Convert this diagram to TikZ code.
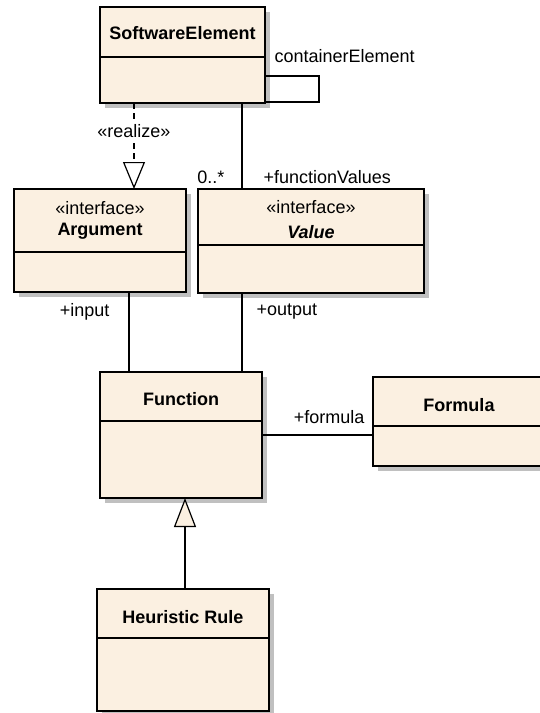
\documentclass[tikz,border=0pt]{standalone}
\usepackage{fontspec}
\setmainfont{Liberation Sans}
\usetikzlibrary{arrows.meta,shadows}

\definecolor{classfill}{RGB}{251,240,225}
\definecolor{classshadow}{RGB}{192,192,192}

\tikzset{
  every node/.style={font=\fontsize{18}{21}\selectfont},
  classbox/.style={draw, line width=1.2pt, fill=classfill, inner sep=0pt, outer sep=0pt,
    anchor=north west,
    drop shadow={shadow xshift=5pt, shadow yshift=-5pt, fill=classshadow, opacity=1}},
  classname/.style={font=\fontsize{18}{21}\selectfont\bfseries},
  divider/.style={line width=1.2pt},
  assoc/.style={line width=1.2pt},
  realize/.style={line width=1.2pt, dash pattern=on 6pt off 4pt,
    -{Triangle[length=27pt, width=22pt, fill=white, line join=miter]}},
  generalize/.style={line width=1.2pt,
    -{Triangle[length=29pt, width=22pt, fill=classfill, line join=miter]}},
}

\begin{document}
\begin{tikzpicture}[x=1pt, y=-1pt]

\def \xrealize  {134}
\def \xvalues   {242}
\def \xinput    {129}
\def \xoutput   {242}
\def \xgeneral  {185}
\def \yformula  {435}

\useasboundingbox (0,0) rectangle (540,713);
\clip (0,0) rectangle (540,713);

% classes
\node [classbox, minimum width=165pt, minimum height=96pt]  (soft) at (100,7)   {};
\node [classbox, minimum width=172pt, minimum height=103pt] (arg)  at (14,189)  {};
\node [classbox, minimum width=226pt, minimum height=104pt] (val)  at (198,189) {};
\node [classbox, minimum width=162pt, minimum height=126pt] (func) at (100,372) {};
\node [classbox, minimum width=172pt, minimum height=89pt]  (form) at (373,377) {};
\node [classbox, minimum width=172pt, minimum height=122pt] (heur) at (97,589)  {};

% compartments
\draw [divider] (soft.west |- 0,57)  -- (soft.east |- 0,57);
\draw [divider] (arg.west |- 0,252)  -- (arg.east |- 0,252);
\draw [divider] (val.west |- 0,245)  -- (val.east |- 0,245);
\draw [divider] (func.west |- 0,421) -- (func.east |- 0,421);
\draw [divider] (form.west |- 0,426) -- (form.east |- 0,426);
\draw [divider] (heur.west |- 0,638) -- (heur.east |- 0,638);

% class names
\node [classname] (softname) at (182.5,33) {SoftwareElement};
\node             (argstereo) at (100,208) {«interface»};
\node [classname] (argname)  at (100,231)  {Argument};
\node             (valstereo) at (311,207) {«interface»};
\node [classname] (valname)  at (311,232)  {\itshape Value};
\node [classname] (funcname) at (181,399)  {Function};
\node [classname] (formname) at (459,405)  {Formula};
\node [classname] (heurname) at (183,617)  {Heuristic Rule};

% self association
\coordinate (loopend) at (319,102);
\draw [assoc] (soft.east |- 0,76) -| (loopend) -- (soft.east |- 0,102);
\node [anchor=west] (containerlabel) at (271,56) {containerElement};

% realization
\draw [realize] (soft.south -| \xrealize,0) -- (arg.north -| \xrealize,0);
\node [fill=white, inner sep=1pt] (realizelabel) at (\xrealize,131) {«realize»};

% associations
\draw [assoc] (soft.south -| \xvalues,0) -- (val.north -| \xvalues,0);
\node [anchor=east] (multlabel)   at (228,177) {0..*};
\node [anchor=west] (valueslabel) at (260,177) {+functionValues};

\draw [assoc] (arg.south -| \xinput,0) -- (func.north -| \xinput,0);
\node [anchor=east] (inputlabel) at (113,312) {+input};

\draw [assoc] (val.south -| \xoutput,0) -- (func.north -| \xoutput,0);
\node [anchor=west] (outputlabel) at (253,312) {+output};

\draw [assoc] (func.east |- 0,\yformula) -- (form.west |- 0,\yformula);
\node [anchor=east] (formulalabel) at (368,417) {+formula};

% generalization
\draw [generalize] (heur.north -| \xgeneral,0) -- (func.south -| \xgeneral,0);

\end{tikzpicture}
\end{document}
